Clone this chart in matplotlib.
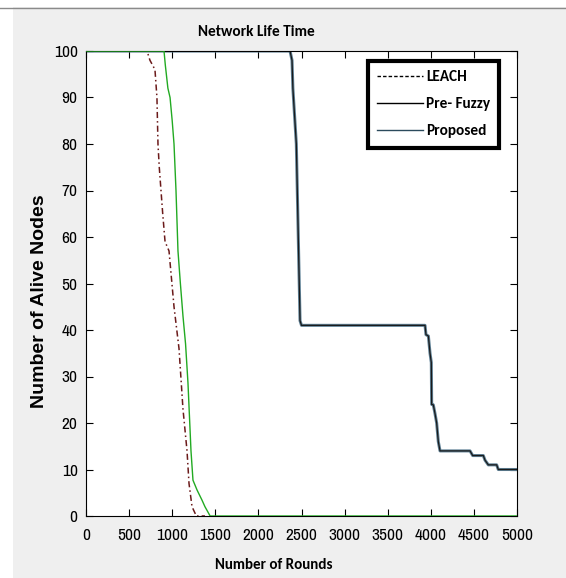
import matplotlib
matplotlib.use('Agg')
import matplotlib.pyplot as plt
from matplotlib.lines import Line2D
from matplotlib.patches import Rectangle
from matplotlib import font_manager

names = set(f.name for f in font_manager.fontManager.ttflist)


def pick(cands):
    for c in cands:
        if c in names:
            return c
    return 'DejaVu Sans'


narrow = pick(['Liberation Sans Narrow', 'Arial Narrow', 'Archivo Narrow', 'PT Sans Narrow',
               'Roboto Condensed', 'Open Sans Condensed'])
calib = pick(['Carlito', 'Calibri', 'Open Sans Condensed', 'PT Sans Narrow', 'Roboto Condensed'])
arial = pick(['Liberation Sans', 'Arimo', 'Arial'])

# data
leach_x = [0, 708, 742, 800, 823, 835, 850, 858, 870, 890, 917, 940, 963, 1021,
           1079, 1125, 1172, 1195, 1230, 1280, 1380]
leach_y = [100, 100, 98, 96, 90, 80, 75, 73, 70, 65, 59, 58, 57, 45,
           36, 23, 14, 7, 2, 0, 0]

green_x = [0, 905, 920, 950, 975, 1000, 1021, 1044, 1067, 1095, 1125, 1155,
           1183, 1218, 1241, 1288, 1346, 1380, 1440, 5000]
green_y = [100, 100, 97, 92, 90, 85, 80, 70, 57, 50, 43, 37,
           28.6, 14, 7.7, 5.6, 3.4, 2, 0, 0]

prop_x = [0, 2367, 2390, 2400, 2440, 2483, 2500, 3933, 3944, 3972, 3991, 4006, 4010, 4029,
          4049, 4068, 4087, 4107, 4455, 4486, 4609, 4629, 4667, 4764, 4783, 5000]
prop_y = [100, 100, 98, 92, 80, 42, 41, 41, 39, 38.7, 35, 33, 24, 23.9,
          22, 20, 16, 14, 14, 13, 13, 12, 11, 11, 10, 10]

x_ticks = list(range(0, 5001, 500))
y_ticks = list(range(0, 101, 10))

fig = plt.figure(figsize=(5.66, 5.78), dpi=100, facecolor='#efefef')
# white strips + grey line at the top of the screenshot
fig.patches.append(Rectangle((0, 1 - 7/578), 1, 7/578, transform=fig.transFigure,
                             facecolor='white', edgecolor='none'))
fig.patches.append(Rectangle((0, 0), 13/566, 1 - 7/578, transform=fig.transFigure,
                             facecolor='white', edgecolor='none'))
fig.lines.append(Line2D([0, 1], [1 - 7.5/578, 1 - 7.5/578], transform=fig.transFigure,
                        color='#8a8a8a', lw=1))

ax = fig.add_axes([86/566, 1 - 516/578, 431/566, 465/578])
ax.set_facecolor('white')

ax.plot(prop_x, prop_y, color='#5f8196', lw=2.2, zorder=2)
ax.plot(prop_x, prop_y, color='#1a1a1a', lw=0.9, zorder=2)
ax.plot(leach_x, leach_y, color='#6b1a1a', lw=1.1, ls=(0, (4, 2, 1, 2)), zorder=2.5)
ax.plot(green_x, green_y, color='#22aa22', lw=1, zorder=3)

ax.set_xlim(0, 5000)
ax.set_ylim(0, 100)
ax.set_xticks(x_ticks)
ax.set_yticks(y_ticks)
ax.tick_params(axis='both', direction='in', top=True, right=True, length=5, width=0.8,
               labelsize=12.5)
ax.tick_params(axis='x', pad=9)
ax.tick_params(axis='y', pad=6)
for lab in ax.get_xticklabels() + ax.get_yticklabels():
    lab.set_family(narrow)
for s in ax.spines.values():
    s.set_linewidth(0.8)

fig.text(256/566, 1 - 32/578, 'Network Life Time', ha='center', va='center',
         fontsize=11, fontweight='bold', family=calib)
fig.text(274/566, 1 - 565/578, 'Number of Rounds', ha='center', va='center',
         fontsize=10.8, fontweight='bold', family=calib)
fig.text(40/566, 1 - 301/578, 'Number of Alive Nodes', ha='center', va='center',
         rotation=90, fontsize=14, fontweight='bold', family=arial)

handles = [Line2D([], [], color='black', lw=1, ls=(0, (2.5, 1.5))),
           Line2D([], [], color='black', lw=1),
           Line2D([], [], color='#2b4a5c', lw=1)]
leg = ax.legend(handles, ['LEACH', 'Pre- Fuzzy', 'Proposed'], loc='upper left',
                bbox_to_anchor=(0.654, 0.978), handlelength=3.0, handletextpad=0.2,
                fancybox=False, framealpha=1, borderpad=0.6, borderaxespad=0,
                labelspacing=0.85,
                prop={'family': calib, 'weight': 'bold', 'size': 11})
leg.get_frame().set_edgecolor('black')
leg.get_frame().set_linewidth(3)

fig.savefig('out.png', dpi=100, facecolor=fig.get_facecolor())
